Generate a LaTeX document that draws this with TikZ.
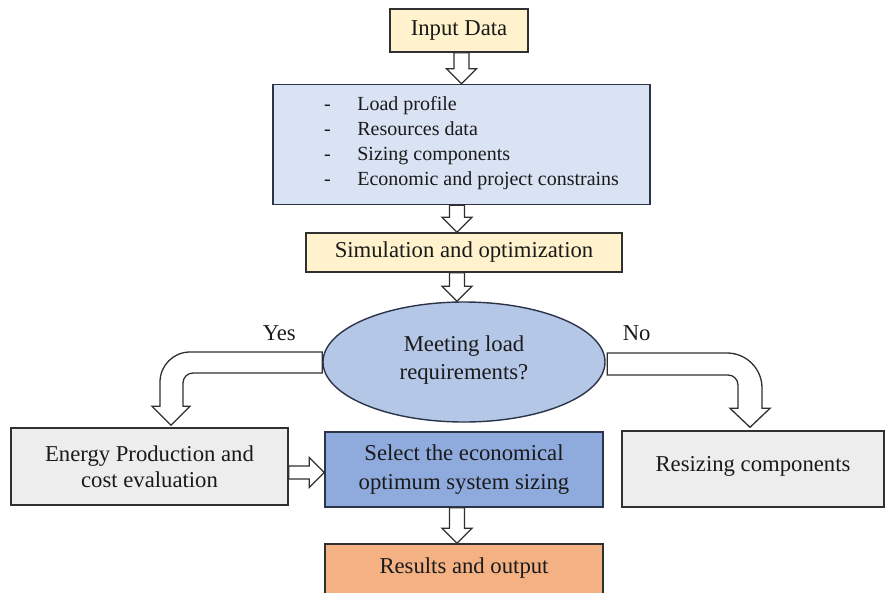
\documentclass[tikz,border=0pt]{standalone}
\usepackage{fontspec}
\setmainfont{Liberation Serif}
\usetikzlibrary{calc,shapes.geometric}

\definecolor{paleyellow}{HTML}{FFF2CC}
\definecolor{paleblue}{HTML}{DAE3F3}
\definecolor{midblue}{HTML}{B4C7E7}
\definecolor{deepblue}{HTML}{8FAADC}
\definecolor{paleorange}{HTML}{F4B183}
\definecolor{palegray}{HTML}{EDEDED}
\definecolor{edge}{HTML}{303030}
\definecolor{navyedge}{HTML}{2B3448}
\definecolor{ink}{HTML}{1A1A1A}

\tikzset{
  box/.style={draw=edge, line width=1.4pt, rectangle, inner sep=0pt,
    align=center, text=ink, font=\fontsize{22.7}{27}\selectfont},
  blockarrow/.style={draw=edge, fill=white, line width=1.3pt, line join=miter},
  tag/.style={inner sep=0pt, text=ink, font=\fontsize{22.7}{27}\selectfont},
}

% hollow block arrow pointing down, from the bottom of #1 to the top of #2,
% shifted sideways by #3
\newcommand\downblock[3]{%
  \draw[blockarrow] let \p1=(#1.south), \p2=(#2.north) in
    ({\x2+(#3)-7.5pt},\y1) -- ({\x2+(#3)+7.5pt},\y1)
    -- ({\x2+(#3)+7.5pt},{\y2+15pt}) -- ({\x2+(#3)+15pt},{\y2+15pt})
    -- ({\x2+(#3)},\y2) -- ({\x2+(#3)-15pt},{\y2+15pt})
    -- ({\x2+(#3)-7.5pt},{\y2+15pt}) -- cycle;}

% hollow block arrow pointing right, from the side of #1 to the side of #2,
% shifted vertically by #3
\newcommand\rightblock[3]{%
  \draw[blockarrow] let \p1=(#1.east), \p2=(#2.west) in
    (\x1,{\y2+(#3)+6.5pt}) -- ({\x2-15pt},{\y2+(#3)+6.5pt})
    -- ({\x2-15pt},{\y2+(#3)+15pt}) -- (\x2,{\y2+(#3)})
    -- ({\x2-15pt},{\y2+(#3)-15pt}) -- ({\x2-15pt},{\y2+(#3)-6.5pt})
    -- (\x1,{\y2+(#3)-6.5pt}) -- cycle;}

\begin{document}
\begin{tikzpicture}[x=1pt, y=-1pt]
  \useasboundingbox (0,0) rectangle (886,592);

  % boxes
  \node[box, fill=paleyellow, minimum width=138pt, minimum height=43pt]
    (input) at (459,30.5) {\raisebox{-2pt}{Input Data}};
  \node[box, fill=paleblue, draw=navyedge, minimum width=377pt, minimum height=120pt]
    (data) at (461.5,144.5) {};
  \node[tag, anchor=west, font=\fontsize{20}{25}\selectfont]
    (datalist) at (324,143)
    {\begin{tabular}{@{}l@{\hspace{26.5pt}}l@{}}
      - & Load profile\\
      - & Resources data\\
      - & Sizing components\\
      - & Economic and project constrains
     \end{tabular}};
  \node[box, fill=paleyellow, minimum width=316pt, minimum height=39pt]
    (sim) at (464,252.5) {Simulation and optimization};
  \node[box, fill=palegray, minimum width=277pt, minimum height=77pt,
        font=\fontsize{22.7}{26}\selectfont]
    (energy) at (149.5,466.5) {Energy Production and\\cost evaluation};
  \node[box, fill=deepblue, draw=navyedge, minimum width=278pt, minimum height=75pt,
        font=\fontsize{22.7}{29}\selectfont]
    (select) at (464,469.5) {Select the economical\\optimum system sizing};
  \node[box, fill=palegray, minimum width=262pt, minimum height=76pt]
    (resize) at (753,469) {\raisebox{10pt}{Resizing components}};
  \node[box, fill=paleorange, minimum width=278pt, minimum height=56pt]
    (results) at (464,572) {\raisebox{13pt}{Results and output}};

  % decision
  \node[box, ellipse, fill=midblue, draw=navyedge, minimum width=282pt,
        minimum height=120pt, font=\fontsize{22.7}{28}\selectfont]
    (dec) at (464,362) {Meeting load\\requirements?\\[-20pt]\mbox{}};

  % Yes branch: bent arrow from the decision down to the energy box
  \draw[blockarrow] let \p1=(dec.west), \p2=(energy.north) in
    (\x1,{\y1+10pt}) -- ({\x2+40.5pt},{\y1+10pt})
    arc[start angle=90, end angle=180, radius=30pt]
    -- ({\x2+10.5pt},{\y2+21pt}) -- ({\x2+2.5pt},{\y2+21pt})
    -- ({\x2+21.5pt},{\y2+2pt}) -- ({\x2+40.5pt},{\y2+21pt})
    -- ({\x2+33.5pt},{\y2+21pt}) -- ({\x2+33.5pt},{\y1-21pt})
    arc[start angle=180, end angle=90, radius=10pt]
    -- (\x1,{\y1-11pt}) -- cycle;

  % No branch: bent arrow from the decision down to the resizing box
  \draw[blockarrow] let \p1=(dec.east), \p2=(resize.north) in
    ({\x1+1.5pt},{\y1+9pt}) -- ({\x2-26pt},{\y1+9pt})
    arc[start angle=90, end angle=0, radius=35pt]
    -- ({\x2+9pt},{\y2+22pt}) -- ({\x2+17pt},{\y2+22pt})
    -- ({\x2-3pt},{\y2+3pt}) -- ({\x2-23pt},{\y2+22pt})
    -- ({\x2-15pt},{\y2+22pt}) -- ({\x2-15pt},{\y1-23pt})
    arc[start angle=0, end angle=90, radius=10pt]
    -- ({\x1+1.5pt},{\y1-13pt}) -- cycle;

  \node[tag] (yes) at ($(dec.west)+(-43,-29)$) {Yes};
  \node[tag] (no) at ($(dec.east)+(31,-29)$) {No};

  % straight block arrows
  \downblock{input}{data}{0pt}
  \downblock{data}{sim}{-7pt}
  \downblock{sim}{dec}{-7pt}
  \downblock{select}{results}{-7pt}
  \rightblock{energy}{select}{-3pt}
\end{tikzpicture}
\end{document}
